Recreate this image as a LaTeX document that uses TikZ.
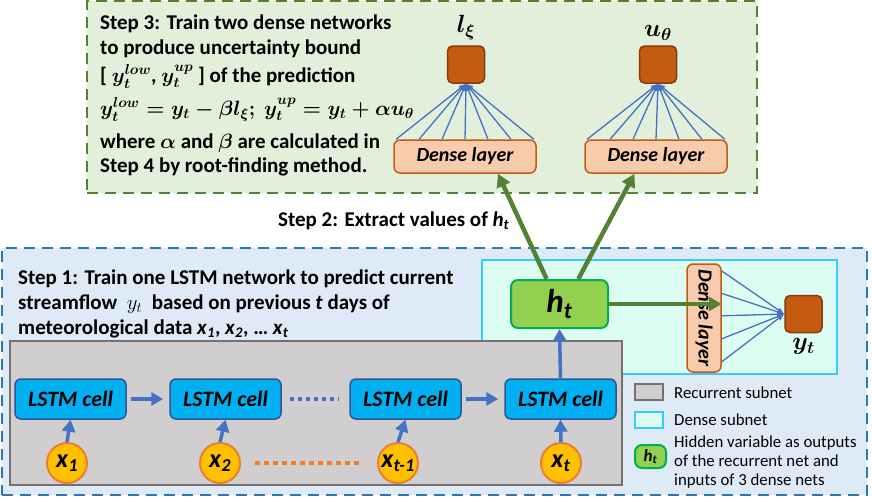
\documentclass[tikz,border=0pt]{standalone}
\usepackage{fontspec}
\setmainfont{Carlito}
\usepackage{amsmath}
\usetikzlibrary{arrows,arrows.meta,positioning,calc}

\definecolor{stepgreen}{RGB}{84,130,53}
\definecolor{stepgreenbg}{RGB}{226,239,218}
\definecolor{stepblue}{RGB}{46,117,182}
\definecolor{stepbluebg}{RGB}{222,235,247}
\definecolor{densecyan}{RGB}{51,204,255}
\definecolor{densebg}{RGB}{221,253,243}
\definecolor{recgray}{RGB}{118,113,113}
\definecolor{recbg}{RGB}{208,206,206}
\definecolor{cellfill}{RGB}{0,176,240}
\definecolor{celledge}{RGB}{47,85,151}
\definecolor{arrowblue}{RGB}{68,114,196}
\definecolor{layerfill}{RGB}{248,203,173}
\definecolor{layeredge}{RGB}{197,90,17}
\definecolor{outfill}{RGB}{197,90,17}
\definecolor{outedge}{RGB}{132,60,12}
\definecolor{hfill}{RGB}{146,208,80}
\definecolor{hedge}{RGB}{0,176,80}
\definecolor{xfill}{RGB}{255,192,0}
\definecolor{xedge}{RGB}{237,125,49}

\newcommand{\varsub}[2]{\textit{#1}\textsubscript{\textit{#2}}}

\tikzset{
  stepbox/.style={line width=2.5pt,dash pattern=on 11pt off 7pt,inner sep=0pt},
  subnet/.style={line width=2.5pt,inner sep=0pt},
  cell/.style={draw=celledge,fill=cellfill,line width=1.5pt,rounded corners=6pt,
    minimum width=111pt,minimum height=40pt,inner sep=0pt,
    font=\fontsize{22}{24}\selectfont\bfseries\itshape},
  inp/.style={circle,draw=xedge,fill=xfill,line width=2pt,minimum size=40pt,inner sep=0pt,
    font=\fontsize{26}{28}\selectfont\bfseries},
  layer/.style={draw=layeredge,fill=layerfill,line width=1.5pt,rounded corners=6pt,
    minimum width=142pt,minimum height=33pt,inner sep=0pt,
    font=\fontsize{20}{22}\selectfont\bfseries\itshape},
  outsq/.style={draw=outedge,fill=outfill,line width=1.5pt,rounded corners=5pt,minimum size=37pt,inner sep=0pt},
  hbox/.style={draw=hedge,fill=hfill,line width=2pt,rounded corners=7pt,inner sep=0pt},
  txt/.style={anchor=base west,inner sep=0pt,text depth=0pt,font=\fontsize{21}{25}\selectfont\bfseries\boldmath},
  mlab/.style={inner sep=0pt,font=\fontsize{24}{26}\selectfont\boldmath},
  legtxt/.style={anchor=west,inner sep=0pt,align=left,font=\fontsize{16.8}{19}\selectfont},
  fan/.style={draw=arrowblue,line width=1.3pt,-{Latex[length=7pt,width=6pt]}},
  flow/.style={draw=arrowblue,line width=3.5pt,-{Triangle[length=12pt,width=13pt]}},
  gflow/.style={draw=stepgreen,line width=4.5pt,-{Triangle[length=13pt,width=14pt]}},
}

\begin{document}
\begin{tikzpicture}[x=1pt,y=-1pt]
\useasboundingbox (0,0) rectangle (872,501);

% Step boxes
\node[stepbox,draw=stepgreen,fill=stepgreenbg,minimum width=670pt,minimum height=192pt] (s3box) at (422,97) {};
\node[stepbox,draw=stepblue,fill=stepbluebg,minimum width=865pt,minimum height=247pt] (s1box) at (434.5,371.5) {};
\node[subnet,draw=densecyan,fill=densebg,minimum width=355pt,minimum height=114pt] (dsub) at (659.5,317) {};
\node[subnet,draw=recgray,fill=recbg,minimum width=612pt,minimum height=144pt] (rsub) at (316,413) {};

% Step 3 text
\node[txt] (s3a) at (100,29) {Step 3: Train two dense networks};
\node[txt] (s3b) at (100,54) {to produce uncertainty bound};
\node[txt] (s3c) at (100,82) {[ \smash{$y_t^{low}$}, \smash{$y_t^{up}$} ] of the prediction};
\node[txt,font=\fontsize{22}{25}\selectfont\bfseries\boldmath] (s3d) at (100,115) {$y_t^{low} = y_t - \beta l_\xi;\ y_t^{up} = y_t + \alpha u_\theta$};
\node[txt] (s3e) at (100,148) {where $\alpha$ and $\beta$ are calculated in};
\node[txt] (s3f) at (100,172) {Step 4 by root-finding method.};

% Dense networks of step 3
\node[layer] (ldl) at (465,156.5) {Dense layer};
\node[layer] (udl) at (656,156.5) {Dense layer};
\node[outsq] (lsq) at (466,64.5) {};
\node[outsq] (usq) at (658,64.5) {};
\node[mlab,above=5pt of lsq] (lxi) {$l_\xi$};
\node[mlab,above=5pt of usq] (uth) {$u_\theta$};
\foreach \f in {0.02,0.18,0.34,0.5,0.66,0.82,0.98}{
  \draw[fan] ($(ldl.north west)!\f!(ldl.north east)$) -- (lsq.south);
  \draw[fan] ($(udl.north west)!\f!(udl.north east)$) -- (usq.south);
}

% Step 2
\node[txt] (s2) at (278,226) {Step 2: Extract values of \varsub{h}{t}};

% Step 1 text
\node[txt] (s1a) at (18,284) {Step 1: Train one LSTM network to predict current};
\node[txt] (s1b) at (18,309) {streamflow \ {\unboldmath$y_t$} \ based on previous \textit{t} days of};
\node[txt] (s1c) at (18,334) {meteorological data \varsub{x}{1}, \varsub{x}{2}, \dots\ \varsub{x}{t}};

% Dense subnet
\node[hbox,minimum width=97pt,minimum height=48pt,font=\fontsize{33}{35}\selectfont\bfseries] (ht) at (559.5,304) {\varsub{h}{t}};
\node[layer,rotate=-90,minimum width=108pt,minimum height=34pt] (vdl) at (704,318) {Dense layer};
\node[outsq] (ysq) at (803.5,314) {};
\node[mlab,below=5pt of ysq] (yt) {$y_t$};
\foreach \f in {0.07,0.275,0.48,0.69,0.9}
  \draw[fan] ($(vdl.north west)!\f!(vdl.north east)$) -- (ysq.west);

% Recurrent subnet
\node[cell] (c1) at (70.5,399) {LSTM cell};
\node[cell] (c2) at (225.5,399) {LSTM cell};
\node[cell] (c3) at (405.5,399) {LSTM cell};
\node[cell] (c4) at (560.5,399) {LSTM cell};
\node[inp] (x1) at (67,463) {\varsub{x}{1}};
\node[inp] (x2) at (220,463) {\varsub{x}{2}};
\node[inp] (x3) at (398,463) {\varsub{x}{t-1}};
\node[inp] (x4) at (561,463) {\varsub{x}{t}};

% Arcs
\draw[flow,shorten <=4pt,shorten >=6pt] (c1) -- (c2);
\draw[draw=arrowblue,line width=4pt,dash pattern=on 4pt off 4pt,shorten <=8pt,shorten >=10pt] (c2) -- (c3);
\draw[flow,shorten <=4pt,shorten >=6pt] (c3) -- (c4);
\draw[draw=xedge,line width=4pt,dash pattern=on 5pt off 4pt,shorten <=14pt,shorten >=15pt] (x2) -- (x3);
\foreach \i in {1,...,4}
  \draw[flow] (x\i.north) -- (c\i.south);
\draw[flow] (c4.north) -- (ht.south);
\draw[gflow] (ht.east) -- (ht.east -| vdl.north);
\draw[gflow] ($(ht.north west)!0.37!(ht.north east)$) -- ($(ldl.south west)!0.73!(ldl.south east)$);
\draw[gflow] ($(ht.north west)!0.69!(ht.north east)$) -- ($(udl.south west)!0.35!(udl.south east)$);

% Legend
\node[subnet,draw=recgray,fill=recbg,minimum width=28pt,minimum height=16pt] (lgr) at (649,392) {};
\node[subnet,draw=densecyan,fill=densebg,minimum width=28pt,minimum height=16pt] (lgd) at (649,420) {};
\node[hbox,minimum width=31pt,minimum height=23pt,font=\fontsize{17}{19}\selectfont\bfseries] (lgh) at (650.5,456.5) {\varsub{h}{t}};
\node[legtxt] (lgrt) at (674,393) {Recurrent subnet};
\node[legtxt] (lgdt) at (674,420) {Dense subnet};
\node[legtxt,anchor=north west] (lght) at (674,436) {Hidden variable as outputs\\of the recurrent net and\\inputs of 3 dense nets};

\end{tikzpicture}
\end{document}
